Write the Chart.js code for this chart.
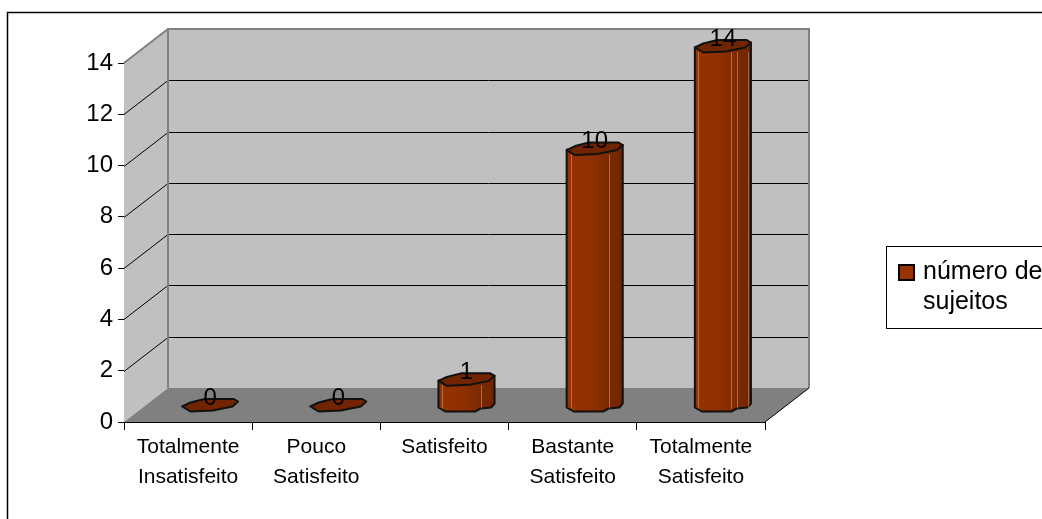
<!DOCTYPE html>
<html>
<head>
<meta charset="utf-8">
<script src="https://cdn.jsdelivr.net/npm/chart.js@4"></script>
<style>
    html, body { margin: 0; padding: 0; background: #fff; overflow: hidden; }
    #wrap { position: relative; width: 1042px; height: 519px; }
</style>
</head>
<body>
<div id="wrap"><canvas id="chart" width="1042" height="519"></canvas></div>
<script>
const categories = [['Totalmente', 'Insatisfeito'], ['Pouco', 'Satisfeito'], 'Satisfeito', ['Bastante', 'Satisfeito'], ['Totalmente', 'Satisfeito']];
const subjects = [0, 0, 1, 10, 14];
const yTicks = [0, 2, 4, 6, 8, 10, 12, 14];
const seriesLabel = ['número de', 'sujeitos'];

const DEPTH_X = 44, DEPTH_Y = 34;   // how far the back wall sits from the axes
const BAR_DX = 22, BAR_DY = 17;     // bars stand in the middle of the floor

// outline of a bar end, as fractions of half width / px down from the centre
const capBack = [[-1, 1.5], [-0.7, -2.5], [-0.2, -6], [0.85, -6], [1, -3.5]];
const capFront = [[1, -3.5], [0.8, 1.5], [0.1, 5.5], [-0.7, 6.5], [-1, 1.5]];
const footFront = [[1, -1], [0.88, 3], [0.5, 4], [0.3, 7], [-0.75, 7], [-1, 3]];
// pale facet lines on each bar, as fractions of its width
const facets = [[], [], [0.07, 0.75], [0.07, 0.75], [0.05, 0.64, 0.75, 0.94]];

function barBox(chart, i) {
    const el = chart.getDatasetMeta(0).data[i];
    return { cx: el.x + BAR_DX, top: el.y - BAR_DY, base: el.base - BAR_DY, half: el.width / 2 };
}

function barGradient(ctx, cx, half) {
    const g = ctx.createLinearGradient(cx - half, 0, cx + half, 0);
    g.addColorStop(0, '#993300');
    g.addColorStop(0.4, '#8f3000');
    g.addColorStop(1, '#6e2500');
    return g;
}

function trace(ctx, pts, cx, cy, half, first) {
    pts.forEach((p, n) => {
        const x = cx + p[0] * half, y = cy + p[1];
        if (n === 0 && first) ctx.moveTo(x, y); else ctx.lineTo(x, y);
    });
}

const walls = {
    id: 'walls',
    beforeDatasetsDraw(chart) {
        const { ctx, chartArea: a, scales: { y } } = chart;
        const y0 = a.bottom, yTop = a.top;
        ctx.save();
        // side wall
        ctx.fillStyle = '#c0c0c0';
        ctx.beginPath();
        ctx.moveTo(a.left, y0); ctx.lineTo(a.left, yTop);
        ctx.lineTo(a.left + DEPTH_X, yTop - DEPTH_Y); ctx.lineTo(a.left + DEPTH_X, y0 - DEPTH_Y);
        ctx.closePath(); ctx.fill();
        // back wall
        ctx.fillRect(a.left + DEPTH_X, yTop - DEPTH_Y, a.width, y0 - yTop);
        // floor
        ctx.fillStyle = '#808080';
        ctx.beginPath();
        ctx.moveTo(a.left, y0); ctx.lineTo(a.right, y0);
        ctx.lineTo(a.right + DEPTH_X, y0 - DEPTH_Y); ctx.lineTo(a.left + DEPTH_X, y0 - DEPTH_Y);
        ctx.closePath(); ctx.fill();
        // grid lines run along the side wall and then the back wall
        ctx.strokeStyle = '#000'; ctx.lineWidth = 1;
        yTicks.slice(1, -1).forEach(v => {
            const py = Math.round(y.getPixelForValue(v)) + 0.5;
            ctx.beginPath();
            ctx.moveTo(a.left, py);
            ctx.lineTo(a.left + DEPTH_X, py - DEPTH_Y);
            ctx.lineTo(a.right + DEPTH_X, py - DEPTH_Y);
            ctx.stroke();
        });
        // grey frame of the walls
        ctx.strokeStyle = '#808080'; ctx.lineWidth = 2;
        ctx.beginPath();
        ctx.moveTo(a.left, yTop);
        ctx.lineTo(a.left + DEPTH_X, yTop - DEPTH_Y);
        ctx.lineTo(a.right + DEPTH_X, yTop - DEPTH_Y);
        ctx.lineTo(a.right + DEPTH_X, y0 - DEPTH_Y);
        ctx.moveTo(a.left + DEPTH_X, yTop - DEPTH_Y);
        ctx.lineTo(a.left + DEPTH_X, y0 - DEPTH_Y);
        ctx.stroke();
        // front edge of the floor
        ctx.strokeStyle = '#000'; ctx.lineWidth = 1;
        ctx.beginPath();
        ctx.moveTo(a.right, y0); ctx.lineTo(a.right + DEPTH_X, y0 - DEPTH_Y);
        ctx.stroke();
        ctx.restore();
    }
};

const cylinders = {
    id: 'cylinders',
    beforeDatasetDraw(chart) {
        chart.ctx.save();
        chart.ctx.translate(BAR_DX, -BAR_DY);
    },
    afterDatasetDraw(chart) {
        const ctx = chart.ctx;
        ctx.restore();
        ctx.save();
        ctx.lineJoin = 'round';
        subjects.forEach((v, i) => {
            const { cx, top, base, half } = barBox(chart, i);
            if (v > 0) {
                // body outline with the rounded foot
                ctx.fillStyle = barGradient(ctx, cx, half);
                ctx.strokeStyle = '#111'; ctx.lineWidth = 2;
                ctx.beginPath();
                ctx.moveTo(cx - half, top + 1.5);
                trace(ctx, footFront.slice().reverse(), cx, base, half, false);
                ctx.lineTo(cx + half, top - 3.5);
                ctx.closePath();
                ctx.fill();
                ctx.stroke();
                ctx.strokeStyle = 'rgba(215,170,140,0.5)'; ctx.lineWidth = 1;
                facets[i].forEach(f => {
                    const fx = Math.round(cx - half + f * 2 * half) + 0.5;
                    ctx.beginPath();
                    ctx.moveTo(fx, top + 6);
                    ctx.lineTo(fx, base + 4);
                    ctx.stroke();
                });
            }
            // top end
            ctx.fillStyle = '#702400';
            ctx.strokeStyle = '#111'; ctx.lineWidth = 2;
            ctx.beginPath();
            trace(ctx, capBack, cx, top, half, true);
            trace(ctx, capFront, cx, top, half, false);
            ctx.closePath();
            ctx.fill();
            ctx.stroke();
        });
        // value labels
        ctx.fillStyle = '#000';
        ctx.font = '24px "Liberation Sans"';
        ctx.textAlign = 'center';
        ctx.textBaseline = 'middle';
        subjects.forEach((v, i) => {
            const { cx, top } = barBox(chart, i);
            ctx.fillText(String(v), cx, top - 7);
        });
        ctx.restore();
    }
};

const legendPlace = {
    id: 'legendPlace',
    afterLayout(chart) {
        const lg = chart.legend;
        const w = lg.width, h = lg.height;
        lg.left = 888.5; lg.right = 888.5 + w;
        lg.top = 246; lg.bottom = 246 + h;
    },
    beforeDraw(chart) {
        // chart frame and legend frame, both run off the picture
        const ctx = chart.ctx;
        ctx.save();
        ctx.strokeStyle = '#000'; ctx.lineWidth = 1.5;
        ctx.strokeRect(7.5, 12.5, 1100, 600);
        ctx.lineWidth = 1;
        ctx.strokeRect(886.5, 246.5, 300, 82);
        ctx.restore();
    }
};

new Chart(document.getElementById('chart'), {
    type: 'bar',
    data: {
        labels: categories,
        datasets: [{
            label: seriesLabel,
            data: subjects,
            clip: false,
            borderWidth: 0,
            categoryPercentage: 1,
            barPercentage: 0.4375,
            backgroundColor(c) {
                const xs = c.chart.scales.x;
                if (!xs || c.dataIndex === undefined) return '#993300';
                return barGradient(c.chart.ctx, xs.getPixelForValue(c.dataIndex), 28);
            }
        }]
    },
    options: {
        responsive: false,
        animation: false,
        layout: { padding: { left: 0, right: 277, top: 63, bottom: 0 } },
        plugins: {
            tooltip: { enabled: false },
            legend: {
                position: 'chartArea',
                align: 'start',
                labels: {
                    color: '#000',
                    font: { family: '"Liberation Sans"', size: 25 },
                    usePointStyle: true,
                    pointStyle: 'rect',
                    boxWidth: 8,
                    boxHeight: 15,
                    padding: 14,
                    generateLabels() {
                        return [{ text: seriesLabel, fillStyle: '#993300', strokeStyle: '#000', lineWidth: 2, pointStyle: 'rect', datasetIndex: 0 }];
                    }
                }
            }
        },
        scales: {
            x: {
                offset: true,
                afterFit(s) { s.height = 97; },
                grid: { drawOnChartArea: false, offset: true, color: '#000', tickLength: 8, tickColor: '#000' },
                border: { color: '#000', width: 1 },
                ticks: {
                    color: '#000', maxRotation: 0, autoSkip: false, padding: 2,
                    font: { family: '"Liberation Sans"', size: 21, lineHeight: 1.43 }
                }
            },
            y: {
                min: 0,
                max: 14,
                afterBuildTicks(s) { s.ticks = yTicks.map(v => ({ value: v })); },
                afterFit(s) { s.width = 124; },
                grid: { drawOnChartArea: false, color: '#000', tickLength: 6, tickColor: '#000' },
                border: { color: '#000', width: 1 },
                ticks: {
                    color: '#000', padding: 5,
                    font: { family: '"Liberation Sans"', size: 24 }
                }
            }
        }
    },
    plugins: [walls, cylinders, legendPlace]
});
</script>
</body>
</html>
